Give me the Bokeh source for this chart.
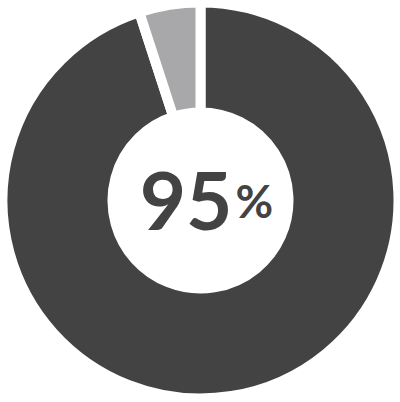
import math
from bokeh.plotting import figure
from bokeh.models import Range1d, ColumnDataSource
from bokeh.core.properties import value
from bokeh.embed import file_html
from bokeh.resources import INLINE

categories = ["Share", "Rest"]
values = [95, 5]
colors = ["#434343", "#a8a7a9"]
center_number = "95"
center_unit = "%"

total = sum(values)
starts, ends = [], []
acc = 0.0
for v in values:
    starts.append(math.pi / 2 - 2 * math.pi * acc / total)
    acc += v
    ends.append(math.pi / 2 - 2 * math.pi * acc / total)

src = ColumnDataSource(dict(cat=categories, val=values, color=colors,
                            start=starts, end=ends,
                            x=[0] * len(values), y=[0] * len(values)))

p = figure(width=400, height=402, output_backend="svg", toolbar_location=None,
           x_range=Range1d(-200, 200), y_range=Range1d(-202, 200),
           min_border=0)
p.axis.visible = False
p.grid.visible = False
p.outline_line_color = None
p.background_fill_color = "white"
p.border_fill_color = "white"

p.annular_wedge(x="x", y="y", inner_radius=88, outer_radius=198,
                start_angle="start", end_angle="end", direction="clock",
                fill_color="color", line_color="white", line_width=10,
                source=src)

p.text(x=[32], y=[0], text=[center_number], text_font=value("Lato"),
       text_font_style="bold", text_font_size="80px", text_color="#434343",
       text_align="right", text_baseline="alphabetic")
p.text(x=[35], y=[0], text=[center_unit], text_font=value("Lato"),
       text_font_style="bold", text_font_size="46px", text_color="#434343",
       text_align="left", text_baseline="alphabetic")

open("out.html", "w").write(file_html(p, INLINE))
